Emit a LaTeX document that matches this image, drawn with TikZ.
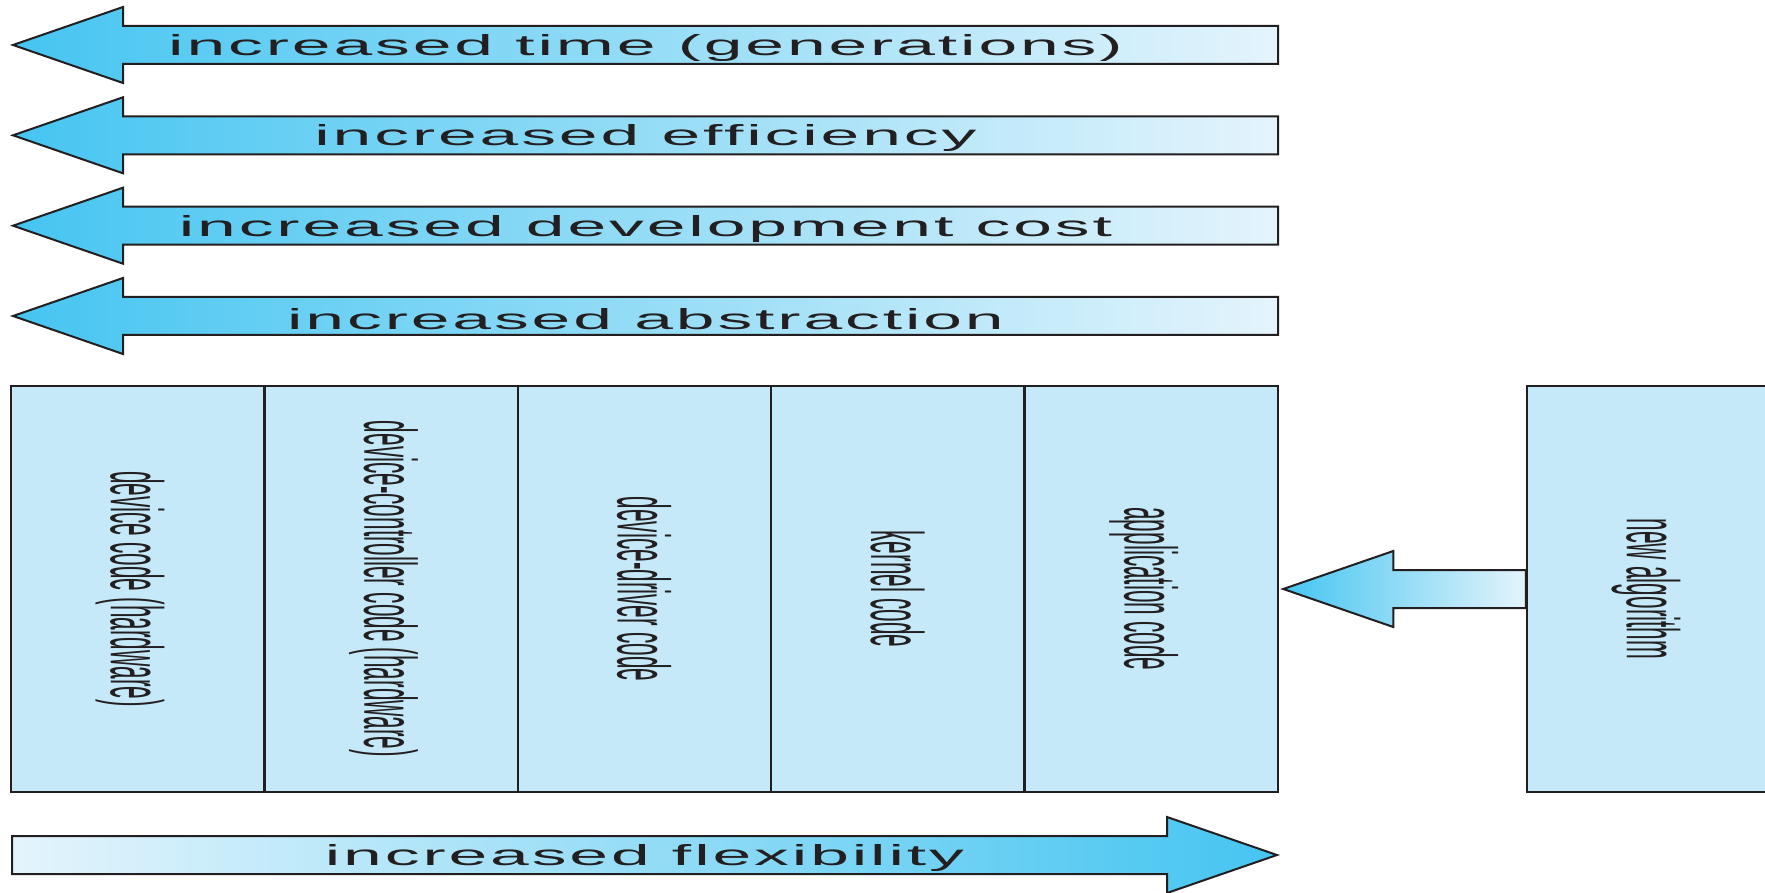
\documentclass[tikz,border=0pt]{standalone}
\usepackage{fontspec}
\setmainfont{Liberation Sans}
\newfontfamily\widefont[FakeStretch=2.4,LetterSpace=10]{Liberation Sans}
\newfontfamily\tallfont[FakeStretch=0.305]{Liberation Sans}
\usetikzlibrary{calc}

\definecolor{boxblue}{HTML}{C5E9F9}
\definecolor{arrowdark}{HTML}{45C5F1}
\definecolor{arrowlight}{HTML}{E4F4FC}
\definecolor{inkline}{HTML}{231F20}

% fat arrow: style, tip, tail, side of the head (1 = head on the left)
\newcommand{\fatarrow}[4]{%
  \path[#1] (#2) -- ($(#2)+({#4*110},-38)$) -- ($(#2)+({#4*110},-19)$)
    -- ($(#3)+(0,-19)$) -- ($(#3)+(0,19)$) -- ($(#2)+({#4*110},19)$)
    -- ($(#2)+({#4*110},38)$) -- cycle;}

\begin{document}
\begin{tikzpicture}[x=1pt,y=-1pt,
    layer/.style={draw=inkline, line width=2.5pt, fill=boxblue,
      minimum width=253.4pt, minimum height=406pt, inner sep=0pt},
    vlabel/.style={rotate=-90, inner sep=0pt, text depth=0pt, text=inkline,
      font=\tallfont\fontsize{74}{80}\selectfont},
    hlabel/.style={inner sep=0pt, text=inkline, yshift=-3pt,
      font=\widefont\fontsize{29}{34}\selectfont},
    backarrow/.style={draw=inkline, line width=2pt,
      left color=arrowdark, right color=arrowlight},
    fwdarrow/.style={draw=inkline, line width=2pt,
      left color=arrowlight, right color=arrowdark}
  ]
  \useasboundingbox (0,0) rectangle (1765,893);
  \clip (0,0) rectangle (1765,893);

  % Trade-off arrows
  \coordinate (tip1) at (13,45);    \coordinate (end1) at (1278,45);
  \coordinate (tip2) at (13,135.3); \coordinate (end2) at (1278,135.3);
  \coordinate (tip3) at (13,225.7); \coordinate (end3) at (1278,225.7);
  \coordinate (tip4) at (13,316);   \coordinate (end4) at (1278,316);

  \fatarrow{backarrow}{tip1}{end1}{1}
  \fatarrow{backarrow}{tip2}{end2}{1}
  \fatarrow{backarrow}{tip3}{end3}{1}
  \fatarrow{backarrow}{tip4}{end4}{1}

  \node[hlabel] (time) at ($(tip1)!0.5!(end1)$) {increased time (generations)};
  \node[hlabel] (eff) at ($(tip2)!0.5!(end2)$) {increased efficiency};
  \node[hlabel] (cost) at ($(tip3)!0.5!(end3)$) {increased development cost};
  \node[hlabel] (abs) at ($(tip4)!0.5!(end4)$) {increased abstraction};

  % Layers
  \node[layer] (dev) at (137.7,589) {};
  \node[layer] (ctrl) at (391.1,589) {};
  \node[layer] (drv) at (644.5,589) {};
  \node[layer] (kern) at (897.9,589) {};
  \node[layer] (app) at (1151.3,589) {};
  \node[layer] (alg) at (1653.7,589) {};

  \node[vlabel] (devtext) at (dev) {device code (hardware)};
  \node[vlabel] (ctrltext) at (ctrl) {device-controller code (hardware)};
  \node[vlabel] (drvtext) at (drv) {device-driver code};
  \node[vlabel] (kerntext) at (kern) {kernel code};
  \node[vlabel] (apptext) at (app) {application code};
  \node[vlabel] (algtext) at (alg) {new algorithm};

  % New algorithm into the application
  \coordinate (newtip) at ($(app.east)+(4,0)$);
  \fatarrow{backarrow}{newtip}{alg.west}{1}

  % Flexibility arrow
  \coordinate (tip5) at (1277,855); \coordinate (end5) at (12,855);
  \fatarrow{fwdarrow}{tip5}{end5}{-1}
  \node[hlabel] (flex) at ($(tip5)!0.5!(end5)$) {increased flexibility};
\end{tikzpicture}
\end{document}
